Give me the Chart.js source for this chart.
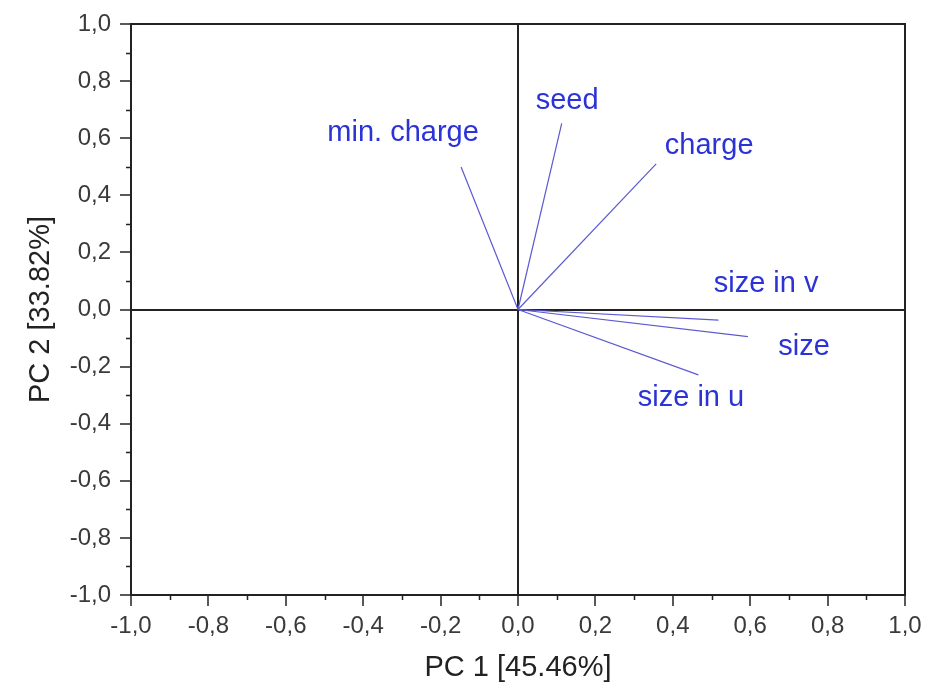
<!DOCTYPE html>
<html>
<head>
<meta charset="utf-8">
<script src="https://cdn.jsdelivr.net/npm/chart.js@4"></script>
<style>
  html, body { margin: 0; padding: 0; background: #fff; }
  #wrap { width: 949px; height: 685px; }
</style>
</head>
<body>
<div id="wrap"><canvas id="pcaChart"></canvas></div>
<script>
// loadings
const variables = ['min. charge', 'seed', 'charge', 'size in v', 'size', 'size in u'];
const pc1 = [-0.147, 0.113, 0.357, 0.518, 0.594, 0.466];
const pc2 = [0.499, 0.652, 0.510, -0.037, -0.095, -0.229];
// where each name sits (data units)
const labelX = [-0.297, 0.127, 0.494, 0.641, 0.739, 0.447];
const labelY = [0.618, 0.730, 0.572, 0.089, -0.131, -0.310];

const axisMin = -1.0;
const axisMax = 1.0;
const majorStep = 0.2;
const minorStep = 0.1;
const xTitle = 'PC 1 [45.46%]';
const yTitle = 'PC 2 [33.82%]';

const lineColor = '#5a5ad2';
const textColor = '#2b33d6';
const fontFamily = 'Arial, "Liberation Sans", sans-serif';

const fmt = v => {
  if (Math.abs(v) < 1e-9) v = 0;
  return v.toFixed(1).replace('.', ',');
};

// frame, minor ticks and vector names
const pcaDecor = {
  id: 'pcaDecor',
  afterDraw(chart) {
    const { ctx, chartArea: a, scales: { x, y } } = chart;
    ctx.save();
    ctx.strokeStyle = '#222';
    ctx.lineWidth = 2;
    ctx.strokeRect(a.left, a.top, a.right - a.left, a.bottom - a.top);

    // minor ticks
    ctx.lineWidth = 1.5;
    ctx.beginPath();
    for (let i = 0; i <= Math.round((axisMax - axisMin) / minorStep); i++) {
      if (i % 2 === 0) continue;
      const v = axisMin + i * minorStep;
      const px = Math.round(x.getPixelForValue(v)) + 0.5;
      ctx.moveTo(px, a.bottom);
      ctx.lineTo(px, a.bottom + 5);
      const py = Math.round(y.getPixelForValue(v)) + 0.5;
      ctx.moveTo(a.left, py);
      ctx.lineTo(a.left - 5, py);
    }
    ctx.stroke();

    ctx.fillStyle = textColor;
    ctx.font = '29px ' + fontFamily;
    ctx.textAlign = 'center';
    ctx.textBaseline = 'middle';
    variables.forEach((name, i) => {
      ctx.fillText(name, x.getPixelForValue(labelX[i]), y.getPixelForValue(labelY[i]));
    });
    ctx.restore();
  }
};

const datasets = variables.map((name, i) => ({
  label: name,
  data: [{ x: 0, y: 0 }, { x: pc1[i], y: pc2[i] }],
  showLine: true,
  borderColor: lineColor,
  borderWidth: 1.2,
  pointRadius: 0,
  pointHoverRadius: 0
}));

const axisCommon = (title, isX) => ({
  type: 'linear',
  min: axisMin,
  max: axisMax,
  border: { display: true, color: '#222', width: 2 },
  grid: {
    drawOnChartArea: true,
    color: c => Math.abs(c.tick.value) < 1e-9 ? '#222' : 'rgba(0,0,0,0)',
    lineWidth: c => Math.abs(c.tick.value) < 1e-9 ? 2 : 0,
    tickColor: '#222',
    tickWidth: 1.5,
    tickLength: 11
  },
  ticks: {
    stepSize: majorStep,
    color: '#3a3a3a',
    font: { family: fontFamily, size: 24 },
    padding: isX ? 6 : 9,
    maxRotation: 0,
    callback: v => fmt(v)
  },
  title: {
    display: true,
    text: title,
    color: '#222',
    font: { family: fontFamily, size: 29 },
    padding: isX ? { top: 4, bottom: 0 } : { top: 24, bottom: 0 }
  }
});

new Chart(document.getElementById('pcaChart'), {
  type: 'scatter',
  data: { datasets },
  options: {
    responsive: true,
    maintainAspectRatio: false,
    animation: false,
    layout: { padding: { top: 24, right: 44, left: 0, bottom: 0 } },
    plugins: {
      legend: { display: false },
      tooltip: { enabled: false }
    },
    scales: {
      x: Object.assign(axisCommon(xTitle, true), {
        afterFit: s => { s.height = 90; }
      }),
      y: Object.assign(axisCommon(yTitle, false), {
        afterFit: s => { s.width = 131; }
      })
    }
  },
  plugins: [pcaDecor]
});
</script>
</body>
</html>
